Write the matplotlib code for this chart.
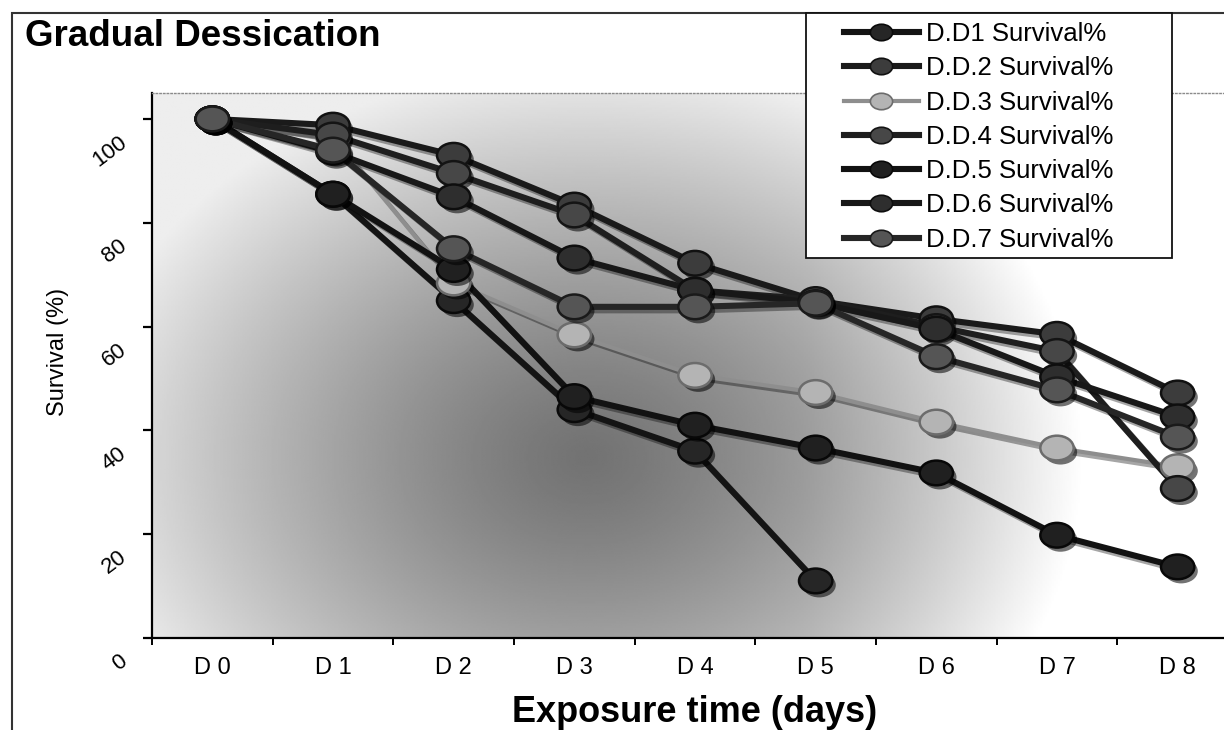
import numpy as np
import matplotlib
matplotlib.use("Agg")
import matplotlib.pyplot as plt
import matplotlib.patheffects as pe
from matplotlib.lines import Line2D
from matplotlib.patches import Rectangle
from matplotlib.path import Path
from matplotlib.transforms import Affine2D, ScaledTranslation

plt.rcParams["font.family"] = ["Liberation Sans", "DejaVu Sans"]

# survival (%) per day of exposure
days = ["D 0", "D 1", "D 2", "D 3", "D 4", "D 5", "D 6", "D 7", "D 8"]
dd1 = [100, 85.5, 65.0, 44.0, 36.0, 11.0, np.nan, np.nan, np.nan]
dd2 = [100, 98.8, 93.0, 83.4, 72.2, 65.0, 61.5, 58.5, 47.2]
dd3 = [100, 96.5, 68.4, 58.4, 50.6, 47.3, 41.6, 36.6, 33.0]
dd4 = [100, 96.9, 89.5, 81.5, 67.0, 65.2, 60.0, 55.2, 28.8]
dd5 = [100, 85.5, 71.0, 46.5, 41.0, 36.6, 31.8, 19.8, 13.7]
dd6 = [100, 93.6, 85.0, 73.2, 67.0, 64.6, 59.5, 50.3, 42.6]
dd7 = [100, 94.0, 75.0, 63.8, 63.8, 64.5, 54.2, 47.8, 38.7]

labels = ["D.D1 Survival%", "D.D.2 Survival%", "D.D.3 Survival%",
          "D.D.4 Survival%", "D.D.5 Survival%", "D.D.6 Survival%",
          "D.D.7 Survival%"]
series = [dd1, dd2, dd3, dd4, dd5, dd6, dd7]

# (line colour, marker face, marker edge, line width)
styles = [
    ("#141414", "#262626", "#0a0a0a", 4.4),
    ("#1a1a1a", "#3c3c3c", "#111111", 4.4),
    ("#8e8e8e", "#b4b4b4", "#6c6c6c", 3.0),
    ("#1e1e1e", "#474747", "#141414", 4.4),
    ("#121212", "#202020", "#080808", 4.4),
    ("#181818", "#2e2e2e", "#0e0e0e", 4.4),
    ("#262626", "#555555", "#1a1a1a", 4.4),
]

W, H = 1224, 730
fig = plt.figure(figsize=(W / 100, H / 100), dpi=100)
fig.patch.set_facecolor("white")

# plot area runs a little past the right edge of the canvas
ax = fig.add_axes([152 / W, 92 / H, 1086 / W, 545 / H])
ax.set_xlim(-0.5, 8.5)
ax.set_ylim(0, 105)

# shaded plot-area fill: dark patch left of centre, fading out to the edges
gx = np.linspace(0, 1, 600)
gy = np.linspace(0, 1, 300)
GX, GY = np.meshgrid(gx, gy)
r = np.sqrt(((GX - 0.40) / 0.47) ** 2 + ((GY - 0.33) / 0.72) ** 2)
shade = 0.45 + 0.48 * np.clip(r, 0, 1) ** 1.3 + 0.1 * np.clip((GX - 0.6) / 0.3, 0, 1)
shade = np.clip(shade, 0, 1)
ax.imshow(shade, extent=(0, 1, 0, 1), transform=ax.transAxes, origin="lower",
          cmap="gray", vmin=0, vmax=1, aspect="auto", zorder=0,
          interpolation="bilinear")

# slightly wide elliptical marker
oval = Path.unit_circle().transformed(Affine2D().scale(1.35, 1.0))

x = np.arange(len(days))
for vals, (lc, mf, me, lw) in zip(series, styles):
    y = np.array(vals, dtype=float)
    ax.plot(x, y, color=lc, lw=lw, solid_capstyle="round", zorder=3,
            path_effects=[pe.SimpleLineShadow(offset=(2.5, -2.5), shadow_color="black",
                                              alpha=0.35),
                          pe.Normal()])
    ax.plot(x, y, linestyle="none", marker=oval, markersize=24,
            markerfacecolor=mf, markeredgecolor=me, markeredgewidth=1.8, zorder=4,
            path_effects=[pe.SimplePatchShadow(offset=(2.5, -3), shadow_rgbFace="black",
                                               alpha=0.55),
                          pe.Normal()])

# axes styling
ax.spines["right"].set_visible(False)
ax.spines["top"].set_color("#8a8a8a")
ax.spines["top"].set_linestyle(":")
ax.spines["top"].set_linewidth(1.0)
ax.spines["left"].set_linewidth(1.6)
ax.spines["bottom"].set_linewidth(1.6)

ax.set_xticks(x)
ax.set_xticklabels(days, fontsize=17)
ax.set_xticks(np.arange(-0.5, 9, 1), minor=True)
ax.tick_params(axis="x", which="major", length=0, pad=14)
ax.tick_params(axis="x", which="minor", length=5, width=1.4, direction="out")

ax.set_yticks(np.arange(0, 101, 20))
ax.tick_params(axis="y", length=6.5, width=1.6, direction="out", pad=18, labelsize=16)
shift = ScaledTranslation(0, -9 / 72, fig.dpi_scale_trans)
for lab in ax.get_yticklabels():
    lab.set_rotation(37)
    lab.set_rotation_mode("anchor")
    lab.set_ha("right")
    lab.set_va("top")
    lab.set_transform(lab.get_transform() + shift)

ax.set_xlabel("Exposure time (days)", fontsize=26, fontweight="bold")
ax.xaxis.set_label_coords(0.5, -0.136)
ax.xaxis.label.set_va("center")
ax.set_ylabel("Survival (%)", fontsize=17)
ax.yaxis.set_label_coords(-0.0866, 0.525)
ax.yaxis.label.set_va("center")

fig.text(25 / W, 1 - 37 / H, "Gradual Dessication", fontsize=26.5, fontweight="bold",
         ha="left", va="center")

# outer chart border (left and top edges visible)
fig.add_artist(Rectangle((12 / W, -0.1), 1.2, 1.1 - 13 / H, transform=fig.transFigure,
                         facecolor="none", edgecolor="#333333", lw=1.5, zorder=2))

# legend box
fig.add_artist(Rectangle((806 / W, 1 - 258 / H), 366 / W, 245 / H, transform=fig.transFigure,
                         facecolor="white", edgecolor="#111111", lw=1.3, zorder=5))
handles = [Line2D([], [], color=lc, lw=lw, marker=oval, markersize=16,
                  markerfacecolor=mf, markeredgecolor=me, markeredgewidth=1.2)
           for (lc, mf, me, lw) in styles]
leg = fig.legend(handles, labels, loc="upper left",
                 bbox_to_anchor=(826 / W, 1 - 4 / H), bbox_transform=fig.transFigure,
                 frameon=False, fontsize=18.5, handlelength=2.9, handletextpad=0.3,
                 labelspacing=0.4, borderpad=0.2)
leg.set_zorder(6)

fig.savefig("out.png", dpi=100)
